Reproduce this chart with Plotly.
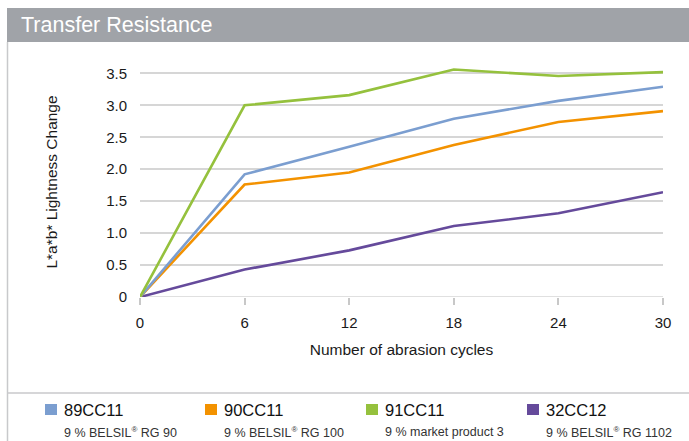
import plotly.graph_objects as go

cycles = [0, 6, 12, 18, 24, 30]
s89 = [0, 1.92, 2.35, 2.79, 3.07, 3.29]
s90 = [0, 1.76, 1.95, 2.38, 2.74, 2.91]
s91 = [0, 3.00, 3.16, 3.56, 3.46, 3.52]
s32 = [0, 0.43, 0.73, 1.11, 1.31, 1.64]

names = ["89CC11", "90CC11", "91CC11", "32CC12"]
REG = "<sup><span style='font-size:8px'>®</span></sup>"
subtitles = ["9 % BELSIL" + REG + " RG 90", "9 % BELSIL" + REG + " RG 100",
             "9 % market product 3", "9 % BELSIL" + REG + " RG 1102"]
colors = ["#7B9ED0", "#F39200", "#95C13D", "#654A9B"]
series = [s89, s90, s91, s32]

ytickvals = [0, 0.5, 1.0, 1.5, 2.0, 2.5, 3.0, 3.5]
yticktext = ["0", "0.5", "1.0", "1.5", "2.0", "2.5", "3.0", "3.5"]

W, H = 689, 441
L, R, T, B = 140, 26, 67, 144
PW, PH = W - L - R, H - T - B


def px(x):
    return (x - L) / PW


def py(y):
    return (H - B - y) / PH


FONT = "Liberation Sans, Arial, Helvetica, sans-serif"

fig = go.Figure()
# draw order: purple, orange, blue, green
for i in [3, 1, 0, 2]:
    fig.add_trace(go.Scatter(
        x=cycles, y=series[i], mode="lines", name=names[i],
        line=dict(color=colors[i], width=2.6), cliponaxis=False,
        showlegend=False))

shapes = [
    dict(type="rect", xref="paper", yref="paper", x0=px(7), x1=px(689),
         y0=py(8), y1=py(42), fillcolor="#A0A3A8", line=dict(width=0), layer="below"),
    dict(type="line", xref="paper", yref="paper", x0=px(7.5), x1=px(7.5),
         y0=py(42), y1=py(441), line=dict(color="#C8C9CB", width=1.5)),
    dict(type="line", xref="paper", yref="paper", x0=px(7), x1=px(689),
         y0=py(393), y1=py(393), line=dict(color="#C8C9CB", width=1.5)),
]
annotations = [
    dict(text="Transfer Resistance", xref="paper", yref="paper", x=px(19), y=py(25),
         xanchor="left", yanchor="middle", showarrow=False,
         font=dict(family=FONT, size=21.5, color="white")),
]
sq_x = [45, 205, 366, 527]
for i in range(4):
    x0 = sq_x[i]
    shapes.append(dict(type="rect", xref="paper", yref="paper", x0=px(x0), x1=px(x0 + 12),
                       y0=py(404), y1=py(415), fillcolor=colors[i], line=dict(width=0)))
    annotations.append(dict(text=names[i], xref="paper", yref="paper", x=px(x0 + 17), y=py(409.5),
                            xanchor="left", yanchor="middle", showarrow=False,
                            font=dict(family=FONT, size=16.5, color="#111111")))
    annotations.append(dict(text=subtitles[i], xref="paper", yref="paper", x=px(x0 + 17), y=py(432),
                            xanchor="left", yanchor="middle", showarrow=False,
                            font=dict(family=FONT, size=12.5, color="#333333")))

fig.update_layout(
    width=W, height=H,
    margin=dict(l=L, r=R, t=T, b=B, pad=0),
    paper_bgcolor="white", plot_bgcolor="white",
    font=dict(family=FONT, color="#1a1a1a"),
    shapes=shapes, annotations=annotations,
    xaxis=dict(range=[0, 30], tickvals=cycles, ticktext=[str(c) for c in cycles],
               showgrid=False, zeroline=False, showline=False,
               ticks="outside", ticklen=7, tickwidth=1.5, tickcolor="#C8C8C8",
               ticklabelstandoff=5,
               tickfont=dict(size=15, color="#1a1a1a"),
               title=dict(text="Number of abrasion cycles", font=dict(size=15.5, color="#1a1a1a"),
                          standoff=14)),
    yaxis=dict(range=[0, 3.6], tickvals=ytickvals, ticktext=yticktext,
               showgrid=True, gridcolor="#D6D6D6", gridwidth=1.5,
               zeroline=False, showline=False, ticks="", ticklabelstandoff=12,
               tickfont=dict(size=15, color="#1a1a1a"),
               title=dict(text="L*a*b* Lightness Change", font=dict(size=15.5, color="#1a1a1a"),
                          standoff=44)),
)
fig.add_hline(y=0, line=dict(color="#D6D6D6", width=1.5), layer="below")

fig.write_html("out.html", config={"displayModeBar": False},
               post_script="document.body.style.margin='0';document.body.style.padding='0';")
